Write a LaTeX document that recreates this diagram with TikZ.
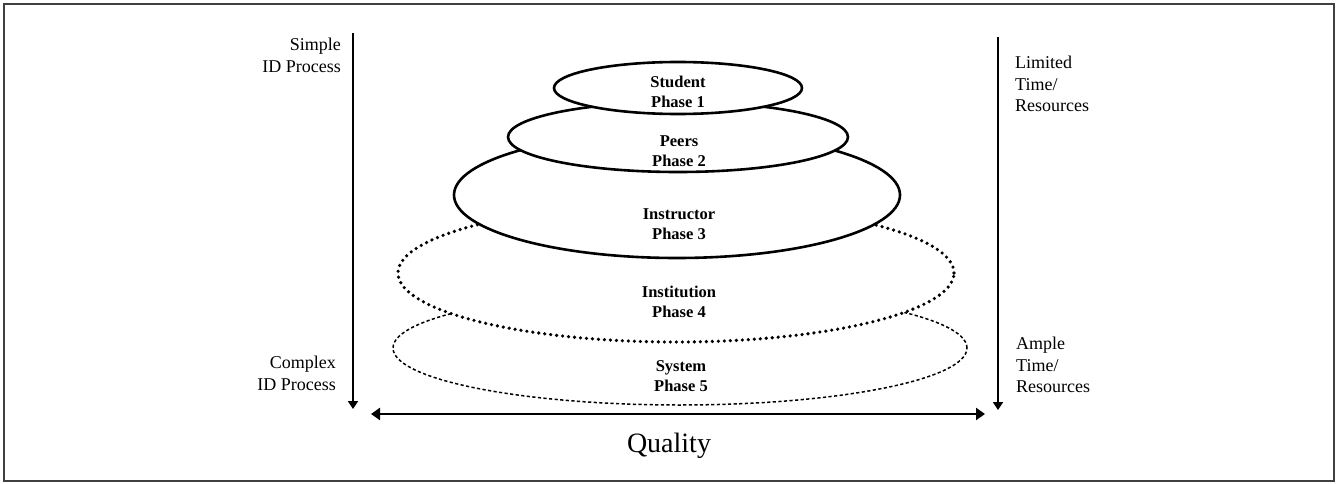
\documentclass[tikz,border=0pt]{standalone}
\usepackage{fontspec}
\setmainfont{Liberation Serif}
\usetikzlibrary{shapes.geometric,arrows.meta}
\begin{document}
\begin{tikzpicture}[x=1pt,y=-1pt,
  layer/.style={ellipse,draw=black,fill=white,inner sep=0pt},
  solidlayer/.style={layer,line width=2.6pt},
  dotlayer/.style={layer,line width=3.6pt,line cap=round,dash pattern=on 0pt off 6pt},
  dashlayer/.style={layer,line width=1.5pt,dash pattern=on 3.2pt off 2.4pt},
  phase/.style={font=\bfseries\fontsize{16.5}{20}\selectfont,align=center,inner sep=0pt},
  side/.style={font=\fontsize{18}{21.5}\selectfont,inner sep=0pt},
  axis/.style={line width=1.8pt,-{Triangle[length=8pt,width=10pt]}}]
  \useasboundingbox (0,0) rectangle (1338,484);
  % frame
  \draw[line width=1.5pt,black!75] (4,4) rectangle (1334,481);

  % stacked layers, widest at the bottom
  \node[dashlayer,minimum width=574pt,minimum height=114pt] (sys) at (680,348) {};
  \node[dotlayer,minimum width=556pt,minimum height=138pt] (inst) at (676,273) {};
  \node[solidlayer,minimum width=446pt,minimum height=126pt] (instr) at (677,195) {};
  \node[solidlayer,minimum width=340pt,minimum height=70pt] (peers) at (678,137) {};
  \node[solidlayer,minimum width=248pt,minimum height=52pt] (stud) at (678,88) {};

  \node[phase] (tstud) at (678,92) {Student\\Phase 1};
  \node[phase] (tpeers) at (679,151) {Peers\\Phase 2};
  \node[phase] (tinstr) at (679,224) {Instructor\\Phase 3};
  \node[phase] (tinst) at (679,302) {Institution\\Phase 4};
  \node[phase] (tsys) at (681,376) {System\\Phase 5};

  % axes
  \coordinate (ltop) at (353,33);
  \coordinate (lbot) at (353,409);
  \coordinate (rtop) at (998,37);
  \coordinate (rbot) at (998,410);
  \coordinate (qleft) at (371,414);
  \coordinate (qright) at (985,414);
  \draw[axis] (ltop) -- (lbot);
  \draw[axis] (rtop) -- (rbot);
  \draw[line width=2.8pt,{Triangle[length=9pt,width=12pt]}-{Triangle[length=9pt,width=12pt]}] (qleft) -- (qright);

  % labels
  \node[side,align=right,anchor=north east] (simple) at (341,38) {Simple\\ID Process};
  \node[side,align=right,anchor=north east] (complex) at (336,356) {Complex\\ID Process};
  \node[side,align=left,anchor=north west] (limited) at (1015,56) {Limited\\Time/\\Resources};
  \node[side,align=left,anchor=north west] (ample) at (1016,337) {Ample\\Time/\\Resources};
  \node[font=\fontsize{28}{30}\selectfont,inner sep=0pt] (quality) at (669,446) {Quality};
\end{tikzpicture}
\end{document}
